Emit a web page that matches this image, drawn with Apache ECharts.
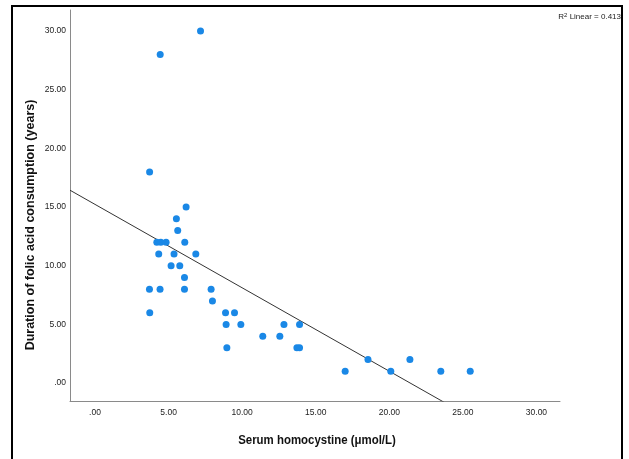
<!DOCTYPE html>
<html>
<head>
<meta charset="utf-8">
<script src="https://cdn.jsdelivr.net/npm/echarts@6/dist/echarts.min.js"></script>
<style>html,body{margin:0;padding:0;background:#fff;}#c{width:629px;height:459px;}</style>
</head>
<body>
<div id="c"></div>
<script>
// Serum homocystine (µmol/L)
const homocystine = [7.17, 4.43, 3.71, 6.19, 5.53, 5.62, 4.2, 4.47, 4.83, 6.1, 4.33, 5.37, 6.85, 5.17, 5.76, 6.08,
  3.7, 4.42, 6.08, 7.89, 7.98, 3.72, 8.87, 9.48, 8.91, 9.91, 12.84, 13.9, 11.4, 12.56, 8.96, 13.72, 13.9,
  17.0, 18.55, 20.1, 21.4, 23.5, 25.5];
// Duration of folic acid consumption (years)
const duration = [30, 28, 18, 15, 14, 13, 12, 12, 12, 12, 11, 11, 11, 10, 10, 9,
  8, 8, 8, 8, 7, 6, 6, 6, 5, 5, 5, 5, 4, 4, 3, 3, 3,
  1, 2, 1, 2, 1, 1];
const xTicks = [0, 5, 10, 15, 20, 25, 30];
const yTicks = [0, 5, 10, 15, 20, 25, 30];
const fitIntercept = 15.23;
const fitSlope = -0.711;
const r2Text = '0.413';
const xRange = [-1.7, 31.6];
const yRange = [-1.53, 31.8];
const xName = 'Serum homocystine (μmol/L)';
const yName = 'Duration of folic acid consumption (years)';

const fmt = v => (v === 0 ? '.00' : v.toFixed(2));
const pts = homocystine.map((x, i) => [x, duration[i]]);
const fitLine = [xRange[0], xRange[1]].map(x => [x, fitIntercept + fitSlope * x]);

const chart = echarts.init(document.getElementById('c'), null, {renderer: 'canvas'});
const labelFont = {fontFamily: 'Liberation Sans, Arial', fontSize: 8.5, color: '#222'};
chart.setOption({
  animation: false,
  grid: {left: 70, right: 69, top: 10, bottom: 58},
  xAxis: {
    type: 'value', min: xRange[0], max: xRange[1],
    axisLine: {show: true, onZero: false, lineStyle: {color: '#8a8a8a', width: 1}},
    axisTick: {show: false},
    splitLine: {show: false},
    axisLabel: Object.assign({customValues: xTicks, formatter: fmt, margin: 7}, labelFont)
  },
  yAxis: {
    type: 'value', min: yRange[0], max: yRange[1],
    axisLine: {show: true, onZero: false, lineStyle: {color: '#8a8a8a', width: 1}},
    axisTick: {show: false},
    splitLine: {show: false},
    axisLabel: Object.assign({customValues: yTicks, formatter: fmt, margin: 4}, labelFont)
  },
  graphic: [
    {type: 'rect', shape: {x: 12, y: 6, width: 610, height: 470}, style: {fill: null, stroke: '#000', lineWidth: 2}, silent: true},
    {type: 'text', x: 31, y: 225, rotation: Math.PI / 2,
      style: {text: yName, fill: '#111', font: 'bold 12.5px Liberation Sans, Arial', align: 'center', verticalAlign: 'middle'}},
    {type: 'text', x: 317, y: 440, scaleX: 0.88,
      style: {text: xName, fill: '#111', font: 'bold 13px Liberation Sans, Arial', align: 'center', verticalAlign: 'middle'}},
    {type: 'text', right: 8, top: 12,
      style: {text: '{n|R}{s|2}{n| Linear = ' + r2Text + '}', rich: {n: {fontSize: 8, fontFamily: 'Liberation Sans', fill: '#222'}, s: {fontSize: 6, fontFamily: 'Liberation Sans', fill: '#222', verticalAlign: 'top', padding: [0,0,4,0]}}}}
  ],
  series: [
    {type: 'scatter', data: pts, symbolSize: 7, itemStyle: {color: '#1a88e6', opacity: 1}, z: 3},
    {type: 'line', data: fitLine, symbol: 'none', clip: true, lineStyle: {color: '#333', width: 1}, z: 2}
  ]
});
</script>
</body>
</html>
